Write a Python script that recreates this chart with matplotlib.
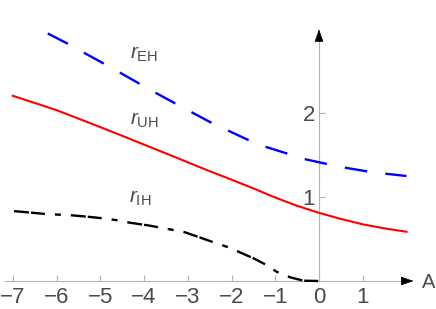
import matplotlib
matplotlib.use("Agg")
import matplotlib.pyplot as plt

# values
red_a = [-7.0, -6.5, -6.0, -5.23, -4.5, -3.52, -3.0, -2.5, -2.03, -1.5, -1.04, -0.51, 0.0, 0.48, 1.01, 1.5, 2.0]
red_r = [2.20, 2.115, 2.03, 1.875, 1.725, 1.52, 1.41, 1.305, 1.21, 1.10, 1.0, 0.895, 0.81, 0.74, 0.672, 0.625, 0.585]

blue_a = [-6.2, -5.75, -5.39, -4.93, -4.55, -4.11, -3.75, -3.29, -2.93, -2.48, -2.03, -1.65, -1.23, -0.74, -0.34, 0.18, 0.59, 1.09, 1.49, 2.0]
blue_r = [2.94, 2.82, 2.716, 2.585, 2.475, 2.345, 2.24, 2.11, 2.01, 1.885, 1.775, 1.683, 1.595, 1.516, 1.449, 1.39, 1.346, 1.303, 1.276, 1.247]

black_a = [-6.97, -6.6, -6.26, -5.95, -5.65, -5.3, -4.95, -4.66, -4.32, -3.9, -3.41, -3.06, -2.45, -2.11, -1.84, -1.5, -1.2, -0.97, -0.66, -0.36, 0.0]
black_r = [0.83, 0.813, 0.796, 0.788, 0.78, 0.764, 0.745, 0.725, 0.692, 0.66, 0.614, 0.578, 0.467, 0.407, 0.348, 0.27, 0.19, 0.11, 0.044, 0.004, 0.0]

x_ticks = [-7, -6, -5, -4, -3, -2, -1, 0, 1]
y_ticks = [1, 2]
labels = [r"$r_{\mathrm{EH}}$", r"$r_{\mathrm{UH}}$", r"$r_{\mathrm{IH}}$"]
label_pos = [(-4.31, 2.645), (-4.32, 1.853), (-4.34, 0.926)]

plt.rcParams["font.family"] = ["Liberation Sans", "DejaVu Sans"]
plt.rcParams["mathtext.fontset"] = "custom"
plt.rcParams["mathtext.rm"] = "Liberation Sans"
plt.rcParams["mathtext.it"] = "Liberation Sans:italic"
plt.rcParams["lines.scale_dashes"] = False

axcol = "#b3b3b3"
txtcol = "#4a4a4a"

fig = plt.figure(figsize=(4.36, 3.09), dpi=100)
ax = fig.add_axes([0, 0, 1, 1])
ax.set_xlim(-319 / 43.75, 117 / 43.75)
ax.set_ylim(-28 / 84.2, 281 / 84.2)

ax.spines["top"].set_visible(False)
ax.spines["right"].set_visible(False)
ax.spines["bottom"].set_position(("data", 0))
ax.spines["left"].set_position(("data", 0))
ax.spines["bottom"].set_bounds(-7.18, 2.1)
ax.spines["left"].set_bounds(0, 2.9)
for s in ["bottom", "left"]:
    ax.spines[s].set_color(axcol)
    ax.spines[s].set_linewidth(0.8)

ax.set_xticks(x_ticks)
ax.set_yticks(y_ticks)
ax.tick_params(direction="in", length=4, width=0.8, color=axcol,
               labelsize=16, labelcolor=txtcol)
ax.tick_params(axis="x", pad=4)
ax.tick_params(axis="y", pad=3)

ax.plot(red_a, red_r, color="#ff0000", lw=1.5, zorder=3)
ax.plot(blue_a, blue_r, color="#0000ff", lw=1.7, dashes=(16.3, 13.2), zorder=3)
ax.plot(black_a, black_r, color="black", lw=1.7,
        dashes=(10.8, 1.4, 10.1, 7.2, 4.3, 7.2), zorder=3)

# arrow heads
head = dict(arrowstyle="-|>,head_length=0.8,head_width=0.28", fc="black",
            ec="black", lw=0.5, shrinkA=0, shrinkB=0, mutation_scale=10)
ax.annotate("", xy=(2.16, 0), xytext=(1.95, 0), arrowprops=head)
ax.annotate("", xy=(0, 2.99), xytext=(0, 2.85), arrowprops=head)

for lab, (xa, yr) in zip(labels, label_pos):
    ax.text(xa, yr, lab, fontsize=15, color=txtcol, ha="left", va="baseline")

ax.text(2.355, -0.087, "A", fontsize=14.5, color=txtcol, ha="left", va="baseline")

fig.savefig("out.png", dpi=100)
